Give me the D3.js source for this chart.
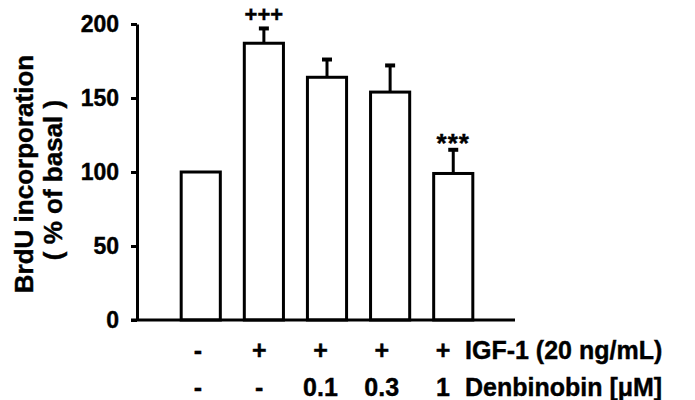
<!DOCTYPE html>
<html>
<head>
<meta charset="utf-8">
<script src="https://cdn.jsdelivr.net/npm/d3@7"></script>
<style>
  body { margin: 0; background: #fff; }
  text { font-family: "Liberation Sans", Arial, sans-serif; font-weight: bold; fill: #000; stroke: #000; stroke-width: 0.4px; }
</style>
</head>
<body>
<script>
let width = 695, height = 400;

// data
const groups = ['basal', 'igf', 'd01', 'd03', 'd1'];
const means = [100, 187, 164, 154, 99];
const errors = [0, 10, 12, 18, 16];
const marks = ['', '+++', '', '', '***'];
const igfRow = ['-', '+', '+', '+', '+'];
const denRow = ['-', '-', '0.1', '0.3', '1'];
const rowNames = ['IGF-1 (20 ng/mL)', 'Denbinobin [\u03BCM]'];
const yTicks = [0, 50, 100, 150, 200];

let x = d3.scaleBand().domain(groups).range([137, 517]).paddingInner(0.38).paddingOuter(0.7);
let y = d3.scaleLinear().domain([0, 200]).range([320, 24]);
let xLab = d3.scalePoint().domain(groups).range([198, 443]);

const svg = d3.select('body')
    .append('svg')
    .attr('width', width)
    .attr('height', height);

svg.append('rect').attr('width', width).attr('height', height).attr('fill', '#fff');

// y axis
let yAxis = d3.axisLeft(y).tickValues(yTicks).tickSize(6).tickSizeOuter(0).tickPadding(12).tickFormat(d3.format('d'));
let gy = svg.append('g')
    .attr('transform', 'translate(137,0)')
    .call(yAxis);
gy.selectAll('path, line').attr('stroke', '#000').attr('stroke-width', 3);
gy.selectAll('text')
    .attr('fill', '#000')
    .style('font-size', '23px')
    .style('font-family', '"Liberation Sans", Arial, sans-serif')
    .style('font-weight', 'bold');

// y title
svg.append('text')
    .attr('transform', 'translate(33,174) rotate(-90)')
    .style('text-anchor', 'middle')
    .style('font-size', '26px')
    .text('BrdU incorporation');
svg.append('text')
    .attr('transform', 'translate(62,180) rotate(-90)')
    .style('text-anchor', 'middle')
    .style('font-size', '26px')
    .text('( % of basal )');

// bars
svg.selectAll('.bar')
    .data(groups)
    .enter()
    .append('rect')
    .attr('class', 'bar')
    .attr('x', d => x(d))
    .attr('width', x.bandwidth())
    .attr('y', (d, i) => y(means[i]))
    .attr('height', (d, i) => y(0) - y(means[i]))
    .attr('fill', '#fff')
    .attr('stroke', '#000')
    .attr('stroke-width', 3);

// x axis line
svg.append('line')
    .attr('x1', 131).attr('x2', x.range()[1] - 2)
    .attr('y1', y(0)).attr('y2', y(0))
    .attr('stroke', '#000').attr('stroke-width', 3);

// error bars
let err = svg.selectAll('.err')
    .data(groups.filter((d, i) => errors[i] > 0))
    .enter()
    .append('g')
    .attr('class', 'err');
err.append('line')
    .attr('x1', d => x(d) + x.bandwidth() / 2)
    .attr('x2', d => x(d) + x.bandwidth() / 2)
    .attr('y1', d => y(means[groups.indexOf(d)]))
    .attr('y2', d => { let i = groups.indexOf(d); return y(means[i] + errors[i]); })
    .attr('stroke', '#000').attr('stroke-width', 3);
err.append('line')
    .attr('x1', d => x(d) + x.bandwidth() / 2 - 5)
    .attr('x2', d => x(d) + x.bandwidth() / 2 + 5)
    .attr('y1', d => { let i = groups.indexOf(d); return y(means[i] + errors[i]); })
    .attr('y2', d => { let i = groups.indexOf(d); return y(means[i] + errors[i]); })
    .attr('stroke', '#000').attr('stroke-width', 4);

// significance marks
svg.selectAll('.mark')
    .data(groups)
    .enter()
    .append('text')
    .attr('class', 'mark')
    .attr('x', d => x(d) + x.bandwidth() / 2)
    .attr('y', (d, i) => y(means[i] + errors[i]) + (marks[i].includes('*') ? 2 : -6))
    .style('text-anchor', 'middle')
    .style('font-size', (d, i) => marks[i].includes('*') ? '26px' : '22px')
    .style('letter-spacing', (d, i) => marks[i].includes('*') ? '1px' : '0px')
    .text((d, i) => marks[i]);

// treatment rows
[igfRow, denRow].forEach((row, r) => {
    let yy = r === 0 ? 359 : 396;
    svg.selectAll('.row' + r)
        .data(groups)
        .enter()
        .append('text')
        .attr('class', 'row' + r)
        .attr('x', d => xLab(d))
        .attr('y', yy)
        .style('text-anchor', 'middle')
        .style('font-size', '25px')
        .text((d, i) => row[i]);
    svg.append('text')
        .attr('x', 465)
        .attr('y', yy)
        .style('font-size', '25px')
        .text(rowNames[r]);
});
</script>
</body>
</html>
